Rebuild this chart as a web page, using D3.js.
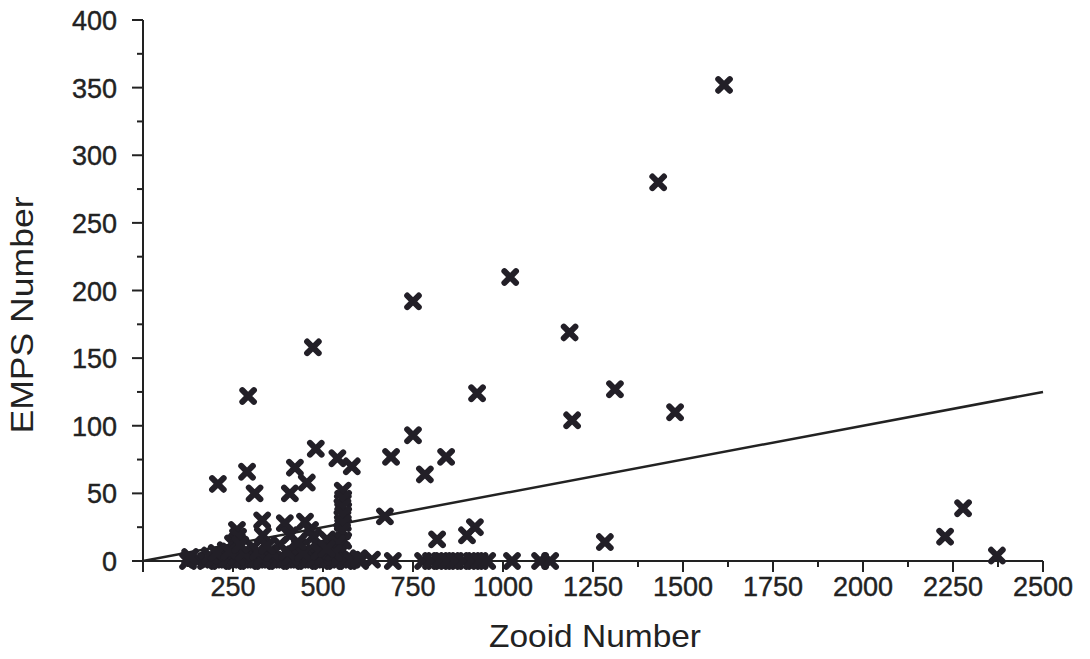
<!DOCTYPE html>
<html>
<head>
<meta charset="utf-8">
<script src="https://cdn.jsdelivr.net/npm/d3@7"></script>
<style>
  html, body { margin: 0; padding: 0; background: #fff; }
  svg { display: block; }
  text { font-family: "Liberation Sans", Arial, Helvetica, sans-serif; fill: #222; }
</style>
</head>
<body>
<svg id="chart" width="1090" height="659"></svg>
<script>
// ---- data ----
const zooidNumber = [
  1614, 1431, 1020, 750, 1185, 472, 928, 292, 1311, 1478, 1192, 750, 480, 540, 689, 842,
  580, 783, 208, 289, 422, 455, 310, 408, 672, 922, 900, 817, 1283, 2278, 2228, 2372,
  555, 556, 554, 556, 555, 553, 556, 552,
  331, 394, 450, 261, 464, 333, 408, 472, 511, 250, 306, 380, 436, 492, 539, 264, 350, 420, 290, 480, 230, 520,
  125, 150, 175, 195, 215, 235, 255, 275, 295, 315, 335, 355, 375, 395, 415, 435, 455, 475, 495, 515, 535,
  561, 580, 603, 636, 694, 778, 800, 825, 845, 867, 890, 914, 935, 956, 1025, 1103, 1131,
  186, 131, 260, 330, 410, 500, 600,
  205, 240, 280, 320, 360, 400, 445, 490, 530, 270, 345, 430, 510
];
const empsNumber = [
  352, 280, 210, 192, 169, 158, 124, 122, 127, 110, 104, 93, 83, 76, 77, 77,
  70, 64, 57, 66, 69, 58, 50, 50, 33, 25, 19, 16, 14, 39, 18, 4,
  52, 46, 40, 34, 28, 22, 15, 8,
  30, 28, 29, 23, 23, 19, 19, 18, 16, 13, 10, 12, 10, 10, 13, 18, 6, 5, 4, 5, 8, 6,
  0, 1, 0, 1, 0, 1, 0, 1, 0, 1, 0, 1, 0, 1, 0, 1, 0, 1, 0, 1, 0,
  0, 1, 0, 1, 0, 0, 0, 0, 0, 0, 0, 0, 0, 0, 0, 0, 0,
  4, 3, 3, 2, 3, 3, 2,
  6, 7, 6, 7, 6, 7, 6, 7, 6, 12, 11, 14, 9
];
// fitted line end points
const fitX = [0, 2500];
const fitY = [0, 125];

const xTicks = [250, 500, 750, 1000, 1250, 1500, 1750, 2000, 2250, 2500];
const yTicks = [0, 50, 100, 150, 200, 250, 300, 350, 400];
const xLabel = "Zooid Number";
const yLabel = "EMPS Number";

// ---- drawing ----
const svg = d3.select("#chart");
const x = d3.scaleLinear().domain([0, 2500]).range([143, 1043]);
const y = d3.scaleLinear().domain([0, 400]).range([561, 20]);
const ink = "#222";

// minor ticks
const xMinor = d3.range(125, 2500, 250);
const yMinor = d3.range(25, 400, 50);

const gx = svg.append("g").attr("transform", `translate(0,${y(0)})`);
gx.append("line").attr("x1", x(0)).attr("x2", x(2500)).attr("stroke", ink).attr("stroke-width", 2);
gx.selectAll("line.maj").data([0].concat(xTicks)).join("line").attr("class", "maj")
  .attr("x1", d => x(d)).attr("x2", d => x(d)).attr("y1", 0).attr("y2", 11)
  .attr("stroke", ink).attr("stroke-width", 2);
gx.selectAll("line.min").data(xMinor).join("line").attr("class", "min")
  .attr("x1", d => x(d)).attr("x2", d => x(d)).attr("y1", 0).attr("y2", 6)
  .attr("stroke", ink).attr("stroke-width", 2);
gx.selectAll("text").data(xTicks).join("text")
  .attr("x", d => x(d)).attr("y", 35).attr("text-anchor", "middle")
  .attr("font-size", 27).attr("stroke", "#222").attr("stroke-width", 0.4).text(d => d);

const gy = svg.append("g").attr("transform", `translate(${x(0)},0)`);
gy.append("line").attr("y1", y(0)).attr("y2", y(400)).attr("stroke", ink).attr("stroke-width", 2);
gy.selectAll("line.maj").data(yTicks).join("line").attr("class", "maj")
  .attr("x1", -11).attr("x2", 0).attr("y1", d => y(d)).attr("y2", d => y(d))
  .attr("stroke", ink).attr("stroke-width", 2);
gy.selectAll("line.min").data(yMinor).join("line").attr("class", "min")
  .attr("x1", -6).attr("x2", 0).attr("y1", d => y(d)).attr("y2", d => y(d))
  .attr("stroke", ink).attr("stroke-width", 2);
gy.selectAll("text").data(yTicks).join("text")
  .attr("x", -26).attr("y", d => y(d) + 10).attr("text-anchor", "end")
  .attr("font-size", 27).attr("stroke", "#222").attr("stroke-width", 0.4).text(d => d);

// axis titles
svg.append("text").attr("x", 595).attr("y", 647).attr("text-anchor", "middle")
  .attr("font-size", 32).attr("textLength", 212).attr("lengthAdjust", "spacingAndGlyphs")
  .text(xLabel);
svg.append("text").attr("transform", "translate(33,315) rotate(-90)").attr("text-anchor", "middle")
  .attr("font-size", 32).attr("textLength", 237).attr("lengthAdjust", "spacingAndGlyphs")
  .text(yLabel);

// fitted line
svg.append("path")
  .datum(fitX.map((d, i) => [d, fitY[i]]))
  .attr("d", d3.line().x(d => x(d[0])).y(d => y(d[1])))
  .attr("fill", "none").attr("stroke", ink).attr("stroke-width", 2.5);

// markers
const pts = zooidNumber.map((d, i) => [d, empsNumber[i]]);
const s = 5.8;
svg.append("g").selectAll("path").data(pts).join("path")
  .attr("transform", d => `translate(${x(d[0])},${y(d[1])})`)
  .attr("d", `M${-s},${-s}L${s},${s}M${-s},${s}L${s},${-s}`)
  .attr("stroke", "#221f27").attr("stroke-width", 6).attr("stroke-linecap", "round")
  .attr("fill", "none");
</script>
</body>
</html>
